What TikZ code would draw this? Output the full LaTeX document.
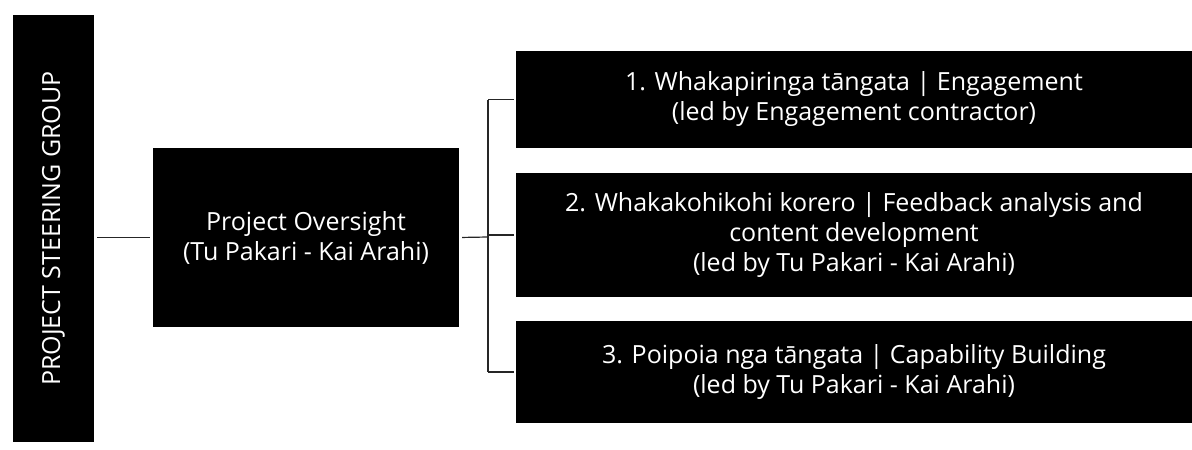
\documentclass[tikz,border=0pt]{standalone}
\usepackage{fontspec}
\setmainfont{Open Sans}

\begin{document}
\begin{tikzpicture}[x = 1pt, y = -1pt,
	box/.style = {fill = black, text = white, inner sep = 0pt, align = center, font = \fontsize{25}{30}\selectfont},
	link/.style = {line width = 1.2pt, black!85}]
	 \useasboundingbox (0, 0) rectangle (1192, 450);
	 
	 \node[box, minimum width = 81pt, minimum height = 427pt] (steer) at (53.5, 228.5) {};
	 \node[rotate = 90, text = white, font = \fontsize{25}{30}\selectfont] at (steer.center) {PROJECT STEERING GROUP};
	 
	 \node[box, minimum width = 306pt, minimum height = 179pt] (over) at (306, 237.5) {Project Oversight\\(Tu Pakari - Kai Arahi)};
	 
	 \node[box, minimum width = 676pt, minimum height = 97pt] (engage) at (854, 99.5) {1. Whakapiringa tāngata | Engagement\\(led by Engagement contractor)};
	 
	 \node[box, minimum width = 676pt, minimum height = 124pt] (feedback) at (854, 235) {2. Whakakohikohi korero | Feedback analysis and\\content development\\(led by Tu Pakari - Kai Arahi)};
	 
	 \node[box, minimum width = 676pt, minimum height = 102pt] (capab) at (854, 372) {3. Poipoia nga tāngata | Capability Building\\(led by Tu Pakari - Kai Arahi)};
	 
	 \draw[link, shorten < = 3pt, shorten > = 3pt] (steer.east |- over.west) -- (over.west);
	 
	 \coordinate (bus) at (488, 237);
	 \draw[link, shorten < = 3pt] (over.east) -- (bus);
	 \draw[link] (bus |- engage.west) -- (bus |- capab.west);
	 \draw[link, shorten > = 2pt] (bus |- engage.west) -- (engage.west);
	 \draw[link, shorten > = 2pt] (bus |- feedback.west) -- (feedback.west);
	 \draw[link, shorten > = 2pt] (bus |- capab.west) -- (capab.west);
\end{tikzpicture}
\end{document}
